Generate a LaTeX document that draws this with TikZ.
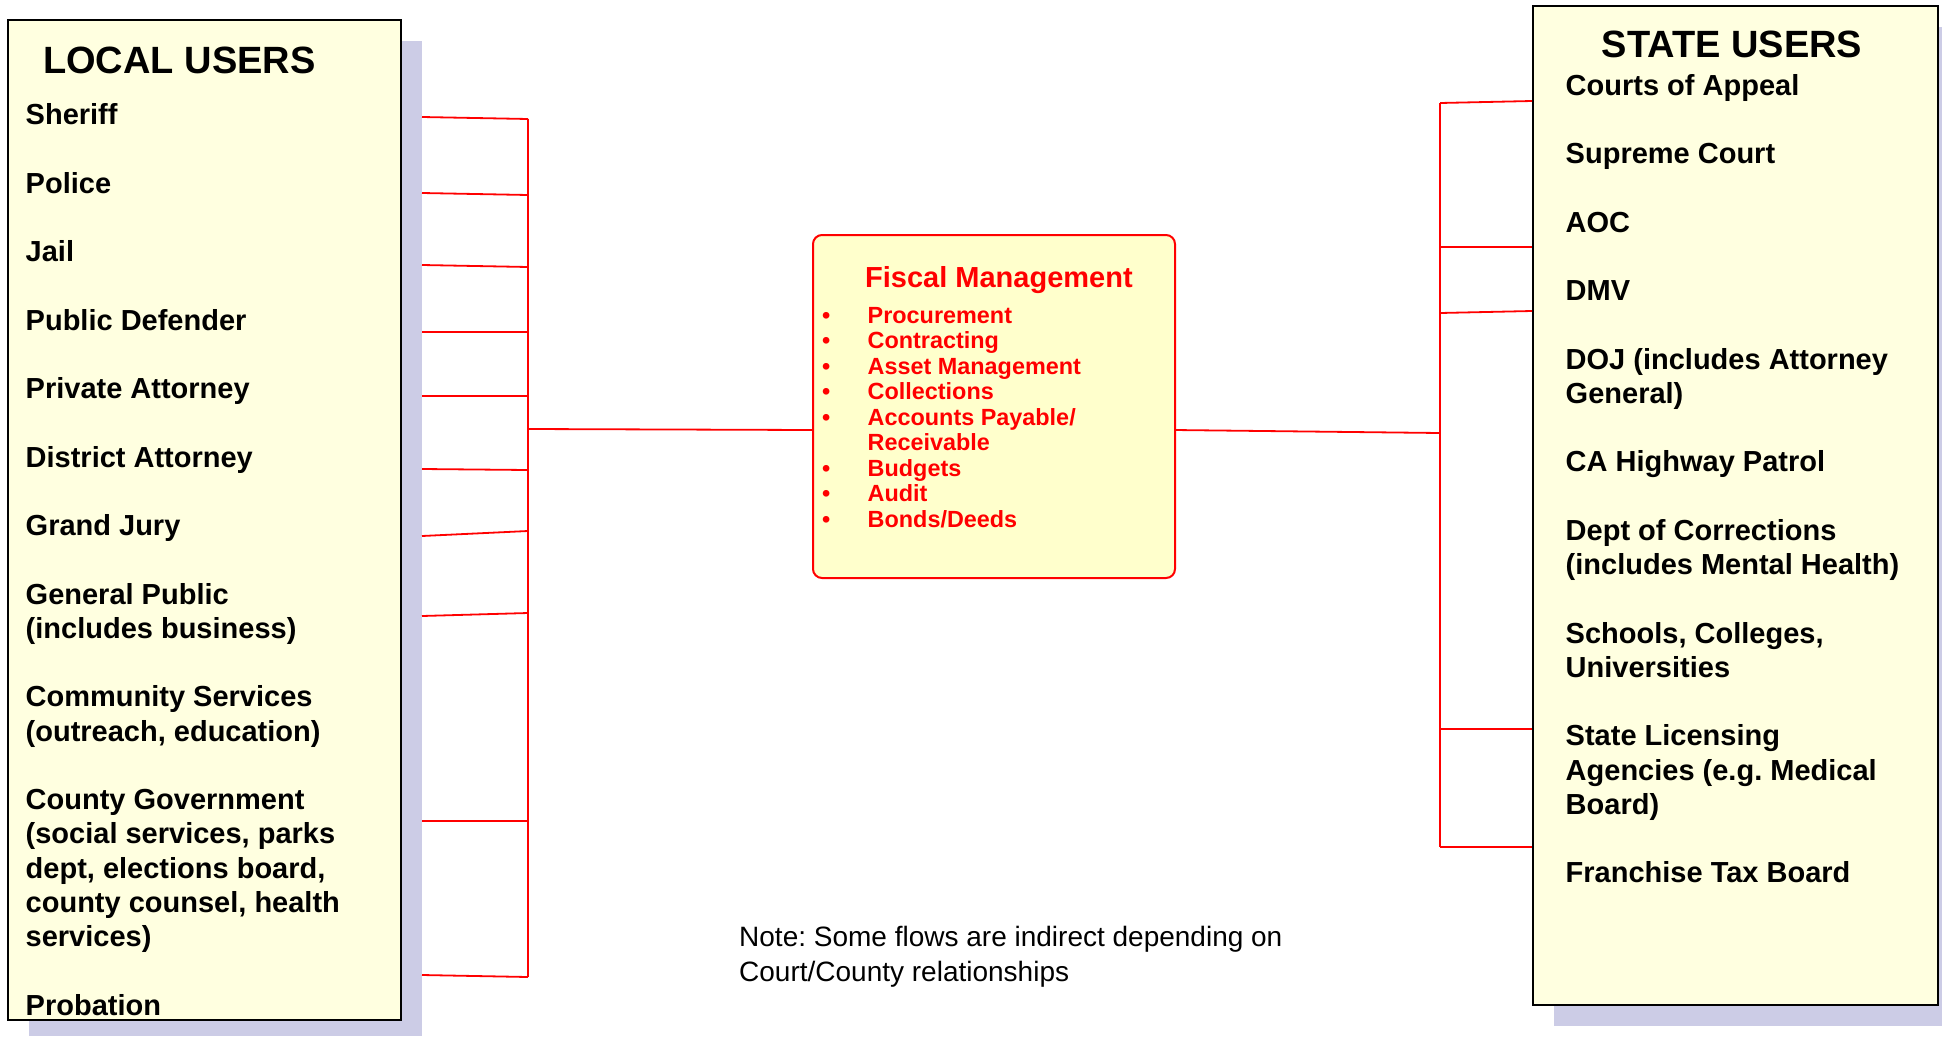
\documentclass[tikz,border=0pt]{standalone}
\usepackage{fontspec}
\setmainfont{Liberation Sans}
\frenchspacing
\definecolor{boxfill}{HTML}{FFFFE0}
\definecolor{fmfill}{HTML}{FFFFCC}
\definecolor{shadowc}{HTML}{CCCCE6}
\definecolor{linkred}{HTML}{FF0000}
\newcommand{\mlines}[1]{\begin{tabular}[t]{@{}l@{}}#1\end{tabular}}
\tikzset{
  userbox/.style={draw=black, line width=2pt, fill=boxfill, inner sep=0pt, anchor=north west},
  shadowbox/.style={fill=shadowc, draw=none, inner sep=0pt, anchor=north west},
  fmbox/.style={draw=linkred, line width=2pt, fill=fmfill, rounded corners=9pt, inner sep=0pt, anchor=north west},
  boxtitle/.style={font=\fontsize{38}{45}\selectfont\bfseries, inner sep=0pt, text=black},
  item/.style={font=\fontsize{29}{34.25}\selectfont\bfseries, inner sep=0pt, anchor=base west, text=black},
  fmtitle/.style={font=\fontsize{29}{34}\selectfont\bfseries, inner sep=0pt, anchor=base west, text=linkred},
  fmitem/.style={font=\fontsize{23.4}{25.5}\selectfont\bfseries, inner sep=0pt, anchor=base west, text=linkred},
  notetext/.style={font=\fontsize{28}{34.75}\selectfont, inner sep=0pt, anchor=base west, text=black},
  conn/.style={draw=linkred, line width=1.8pt},
}
\begin{document}
\begin{tikzpicture}[x=1pt,y=-1pt]
\useasboundingbox (0,0) rectangle (1942,1036);
\fill[white] (0,0) rectangle (1942,1036);

% shadows
\node[shadowbox, minimum width=393pt, minimum height=995pt] (lshadow) at (29,41) {};
\node[shadowbox, minimum width=388pt, minimum height=999pt] (rshadow) at (1554,27) {};

% boxes
\node[userbox, minimum width=393pt, minimum height=1000pt] (lbox) at (7,19) {};
\node[userbox, minimum width=405pt, minimum height=999pt] (rbox) at (1532,5) {};
\node[fmbox, minimum width=362pt, minimum height=343pt] (fm) at (812,234) {};

% left connectors
\coordinate (la1) at (422,117);  \coordinate (lb1) at (528,119);
\coordinate (la2) at (422,193);  \coordinate (lb2) at (528,195);
\coordinate (la3) at (422,265);  \coordinate (lb3) at (528,267);
\coordinate (la4) at (422,332);  \coordinate (lb4) at (528,332);
\coordinate (la5) at (422,396);  \coordinate (lb5) at (528,396);
\coordinate (la6) at (422,469);  \coordinate (lb6) at (528,470);
\coordinate (la7) at (422,536);  \coordinate (lb7) at (528,531);
\coordinate (la8) at (422,616);  \coordinate (lb8) at (528,613);
\coordinate (la9) at (422,821);  \coordinate (lb9) at (529,821);
\coordinate (la10) at (422,975); \coordinate (lb10) at (528,977);
\coordinate (lmid) at (528,429); \coordinate (fmleft) at (812,430);
\foreach \i in {1,...,10} \draw[conn] (la\i) -- (lb\i);
\draw[conn] (lb1) -- (lb10);
\draw[conn] (lmid) -- (fmleft);

% right connectors
\coordinate (fmright) at (1174,430); \coordinate (rmid) at (1440,433);
\coordinate (ra1) at (1440,103); \coordinate (rb1) at (1532,101);
\coordinate (ra2) at (1440,247); \coordinate (rb2) at (1532,247);
\coordinate (ra3) at (1440,313); \coordinate (rb3) at (1532,311);
\coordinate (ra4) at (1440,729); \coordinate (rb4) at (1532,729);
\coordinate (ra5) at (1440,847); \coordinate (rb5) at (1532,847);
\foreach \i in {1,...,5} \draw[conn] (ra\i) -- (rb\i);
\draw[conn] (ra1) -- (ra5);
\draw[conn] (fmright) -- (rmid);

% left texts
\node[boxtitle, anchor=base west] (ltitle) at (43,73) {LOCAL USERS};
\node[item] (l1) at (25.5,124.5) {Sheriff};
\node[item] (l2) at (25.5,193) {Police};
\node[item] (l3) at (25.5,261.5) {Jail};
\node[item] (l4) at (25.5,330) {Public Defender};
\node[item] (l5) at (25.5,398.5) {Private Attorney};
\node[item] (l6) at (25.5,467) {District Attorney};
\node[item] (l7) at (25.5,535.5) {Grand Jury};
\node[item] (l8) at (25.5,604) {\mlines{General Public\\(includes business)}};
\node[item] (l9) at (25.5,706.75) {\mlines{Community Services\\(outreach, education)}};
\node[item] (l10) at (25.5,809.5) {\mlines{County Government\\(social services, parks\\dept, elections board,\\county counsel, health\\services)}};
\node[item] (l11) at (25.5,1015) {Probation};

% right texts
\node[boxtitle, anchor=base] (rtitle) at (1732,57) {STATE USERS};
\node[item] (r1) at (1565.5,95) {Courts of Appeal};
\node[item] (r2) at (1565.5,163.5) {Supreme Court};
\node[item] (r3) at (1565.5,232) {AOC};
\node[item] (r4) at (1565.5,300.5) {DMV};
\node[item] (r5) at (1565.5,369) {\mlines{DOJ (includes Attorney\\General)}};
\node[item] (r6) at (1565.5,471.75) {CA Highway Patrol};
\node[item] (r7) at (1565.5,540.25) {\mlines{Dept of Corrections\\(includes Mental Health)}};
\node[item] (r8) at (1565.5,643) {\mlines{Schools, Colleges,\\Universities}};
\node[item] (r9) at (1565.5,745.75) {\mlines{State Licensing\\Agencies (e.g. Medical\\Board)}};
\node[item] (r10) at (1565.5,882.75) {Franchise Tax Board};

% fiscal management texts
\node[fmtitle] (fmt) at (865,287) {Fiscal Management};
\node[fmitem] (fmbul) at (822,323.3) {\mlines{\textbullet\\\textbullet\\\textbullet\\\textbullet\\\textbullet\\ \\\textbullet\\\textbullet\\\textbullet}};
\node[fmitem] (fml) at (867.5,323.3) {\mlines{Procurement\\Contracting\\Asset Management\\Collections\\Accounts Payable/\\Receivable\\Budgets\\Audit\\Bonds/Deeds}};

% note
\node[notetext] (note) at (739,946.7) {\mlines{Note: Some flows are indirect depending on\\Court/County relationships}};
\end{tikzpicture}
\end{document}
